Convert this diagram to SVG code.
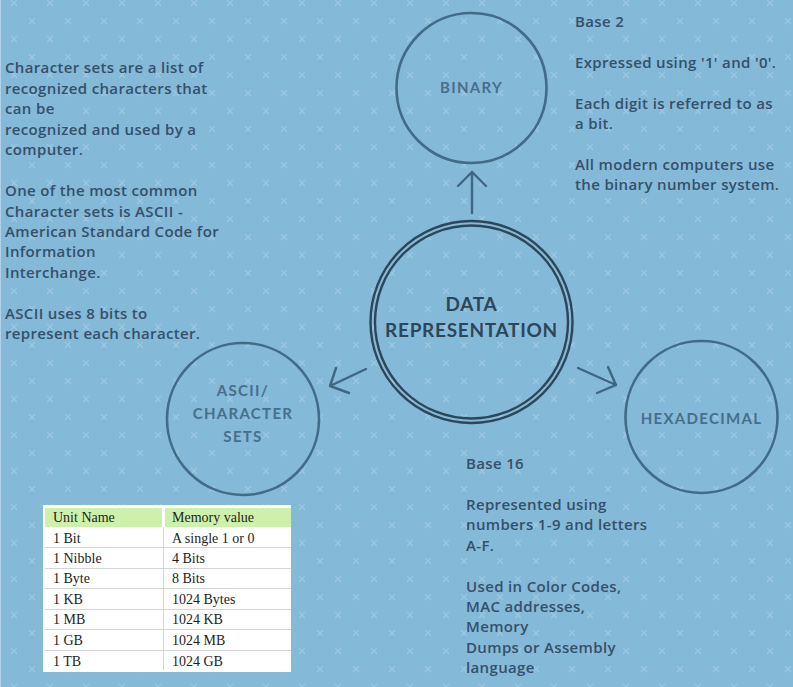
<svg xmlns="http://www.w3.org/2000/svg" width="793" height="687" viewBox="0 0 793 687">
  <defs>
    <!-- repeating cross texture on the backdrop -->
    <pattern id="crosses" x="0" y="0" width="36" height="36" patternUnits="userSpaceOnUse">
      <path d="M11.5 0.5 L16.5 5.5 M16.5 0.5 L11.5 5.5 M29.5 18.5 L34.5 23.5 M34.5 18.5 L29.5 23.5" stroke="#9dc7e1" stroke-width="1.2" stroke-linecap="round"/>
    </pattern>
    <style>
      .note { font-family: "Open Sans", "Lato", sans-serif; font-size: 15px; font-weight: 600; letter-spacing: 0.35px; fill: #34506a; }
      .node-ring { fill: none; stroke: #426b88; stroke-width: 2.6; }
      .core-ring { fill: none; stroke: #2c4759; stroke-width: 2.4; }
      .node-label { font-family: "Lato", "Open Sans", sans-serif; font-size: 15px; font-weight: 700; fill: #476f8b; letter-spacing: 1.3px; text-anchor: middle; }
      .core-label { font-family: "Lato", "Open Sans", sans-serif; font-size: 19px; font-weight: 700; fill: #2c4759; letter-spacing: 0.7px; text-anchor: middle; }
      .arrow { fill: none; stroke: #3e6782; stroke-width: 2.4; stroke-linecap: round; stroke-linejoin: round; }
      .cell { font-family: "Liberation Serif", "Times New Roman", serif; font-size: 14px; fill: #1e1e1e; }
      .rule { stroke: #d3d6d8; stroke-width: 1; }
    </style>
  </defs>

  <!-- backdrop -->
  <rect x="0" y="0" width="793" height="687" fill="#84b9d8"/>
  <rect x="0" y="0" width="793" height="687" fill="url(#crosses)"/>
  <line x1="0.5" y1="0" x2="0.5" y2="687" stroke="#cfe4f1" stroke-width="1" opacity="0.6"/>

  <!-- connectors -->
  <g id="connectors">
    <path class="arrow" d="M472 213 L472 172 M458 186 L472 172 L486 186"/>
    <path class="arrow" d="M366 369 L330 386 M336 368 L330 386 L349 393"/>
    <path class="arrow" d="M578 368 L616 385 M608 367 L616 385 L597 393"/>
  </g>

  <!-- central node -->
  <g id="data-representation">
    <circle class="core-ring" cx="471.5" cy="322" r="101"/>
    <circle class="core-ring" cx="471.5" cy="322" r="96.5"/>
    <text class="core-label" x="471.5" y="311">DATA</text>
    <text class="core-label" x="471.5" y="337">REPRESENTATION</text>
  </g>

  <!-- binary node -->
  <g id="binary">
    <circle class="node-ring" cx="471.5" cy="88" r="75"/>
    <text class="node-label" x="471.5" y="93">BINARY</text>
  </g>

  <!-- ascii / character sets node -->
  <g id="ascii">
    <circle class="node-ring" cx="243" cy="419" r="76"/>
    <text class="node-label" x="243" y="396">ASCII/</text>
    <text class="node-label" x="243" y="419">CHARACTER</text>
    <text class="node-label" x="243" y="442">SETS</text>
  </g>

  <!-- hexadecimal node -->
  <g id="hexadecimal">
    <circle class="node-ring" cx="701.5" cy="417" r="76"/>
    <text class="node-label" x="701.5" y="424">HEXADECIMAL</text>
  </g>

  <!-- notes -->
  <g id="note-character-sets">
    <text class="note" x="5" y="73">Character sets are a list of</text>
    <text class="note" x="5" y="94">recognized characters that</text>
    <text class="note" x="5" y="114">can be</text>
    <text class="note" x="5" y="135">recognized and used by a</text>
    <text class="note" x="5" y="155">computer.</text>
    <text class="note" x="5" y="196">One of the most common</text>
    <text class="note" x="5" y="217">Character sets is ASCII -</text>
    <text class="note" x="5" y="237">American Standard Code for</text>
    <text class="note" x="5" y="257">Information</text>
    <text class="note" x="5" y="278">Interchange.</text>
    <text class="note" x="5" y="319">ASCII uses 8 bits to</text>
    <text class="note" x="5" y="339">represent each character.</text>
  </g>

  <g id="note-binary">
    <text class="note" x="575" y="27">Base 2</text>
    <text class="note" x="575" y="68">Expressed using '1' and '0'.</text>
    <text class="note" x="575" y="109">Each digit is referred to as</text>
    <text class="note" x="575" y="129">a bit.</text>
    <text class="note" x="575" y="170">All modern computers use</text>
    <text class="note" x="575" y="190">the binary number system.</text>
  </g>

  <g id="note-hexadecimal">
    <text class="note" x="466" y="469">Base 16</text>
    <text class="note" x="466" y="510">Represented using</text>
    <text class="note" x="466" y="530">numbers 1-9 and letters</text>
    <text class="note" x="466" y="551">A-F.</text>
    <text class="note" x="466" y="592">Used in Color Codes,</text>
    <text class="note" x="466" y="612">MAC addresses,</text>
    <text class="note" x="466" y="632">Memory</text>
    <text class="note" x="466" y="653">Dumps or Assembly</text>
    <text class="note" x="466" y="673">language</text>
  </g>

  <!-- memory unit table -->
  <g id="memory-table">
    <rect x="43" y="505" width="248" height="167" fill="#ffffff"/>
    <rect x="45" y="508" width="117" height="19" fill="#cdf1aa"/>
    <rect x="165" y="508" width="126" height="19" fill="#cdf1aa"/>
    <line class="rule" x1="163.5" y1="527" x2="163.5" y2="670"/>
    <line class="rule" x1="45" y1="547.5" x2="291" y2="547.5"/>
    <line class="rule" x1="45" y1="568.5" x2="291" y2="568.5"/>
    <line class="rule" x1="45" y1="588.5" x2="291" y2="588.5"/>
    <line class="rule" x1="45" y1="609.5" x2="291" y2="609.5"/>
    <line class="rule" x1="45" y1="629.5" x2="291" y2="629.5"/>
    <line class="rule" x1="45" y1="650.5" x2="291" y2="650.5"/>
    <text class="cell" x="53" y="522">Unit Name</text>
    <text class="cell" x="172" y="522">Memory value</text>
    <text class="cell" x="53" y="543">1 Bit</text>
    <text class="cell" x="172" y="543">A single 1 or 0</text>
    <text class="cell" x="53" y="563">1 Nibble</text>
    <text class="cell" x="172" y="563">4 Bits</text>
    <text class="cell" x="53" y="583">1 Byte</text>
    <text class="cell" x="172" y="583">8 Bits</text>
    <text class="cell" x="53" y="604">1 KB</text>
    <text class="cell" x="172" y="604">1024 Bytes</text>
    <text class="cell" x="53" y="624">1 MB</text>
    <text class="cell" x="172" y="624">1024 KB</text>
    <text class="cell" x="53" y="645">1 GB</text>
    <text class="cell" x="172" y="645">1024 MB</text>
    <text class="cell" x="53" y="666">1 TB</text>
    <text class="cell" x="172" y="666">1024 GB</text>
  </g>
</svg>
